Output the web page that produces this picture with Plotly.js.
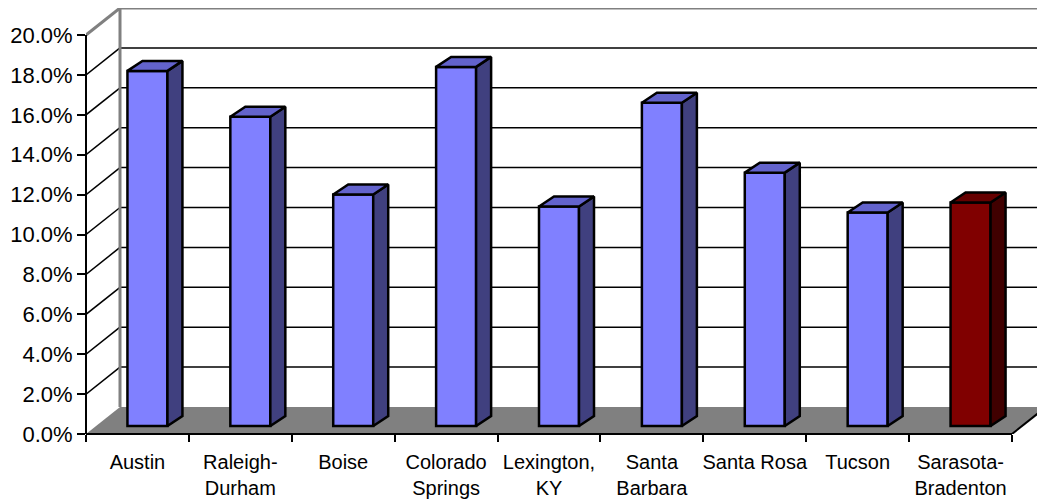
<!DOCTYPE html>
<html>
<head>
<meta charset="utf-8">
<script src="https://cdn.plot.ly/plotly-3.0.1.min.js"></script>
<style>
  html, body { margin: 0; padding: 0; background: #ffffff; }
  #chart { width: 1037px; height: 502px; }
</style>
</head>
<body>
<div id="chart"></div>
<script>
// Metro areas and their growth share
const cities = ['Austin', 'Raleigh-<br>Durham', 'Boise', 'Colorado<br>Springs', 'Lexington,<br>KY',
                'Santa<br>Barbara', 'Santa Rosa', 'Tucson', 'Sarasota-<br>Bradenton'];
const shares = [0.178, 0.155, 0.116, 0.180, 0.110, 0.162, 0.127, 0.107, 0.112];
const highlighted = [false, false, false, false, false, false, false, false, true];
const yTicks = [0, 0.02, 0.04, 0.06, 0.08, 0.10, 0.12, 0.14, 0.16, 0.18, 0.20];

// Pixel geometry of the pseudo-3D frame
const W = 1037, H = 502;
const M = { l: 86, r: 0, t: 8, b: 68 };
const PX = 926 / 9;          // pixels per category
const PY = 399 / 0.20;       // pixels per unit of share
const plotW = W - M.l - M.r, plotH = H - M.t - M.b;
const X0 = -0.5, X1 = X0 + plotW / PX;
const Y0 = 0, Y1 = plotH / PY;
const N = cities.length;
const XR = N - 0.5;

// wall depth offset
const DX = 34 / PX, DY = 27 / PY;
// bar placement inside the floor depth, and bar size
const BX = 10 / PX, BY = 8 / PY;
const BW = 40 / PX;
const DDX = 15 / PX, DDY = 10 / PY;

const FONT = '"Liberation Sans Narrow", "Arial Narrow", "Liberation Sans", Arial, sans-serif';
const FONT_Y = '"Liberation Sans", Arial, sans-serif';

const face = { blue: '#8080ff', blueTop: '#6363cc', blueSide: '#40407f',
               red: '#800000', redTop: '#660000', redSide: '#400000' };

const idx = cities.map((_, i) => i);

// Front faces
const traces = [{
  type: 'bar',
  x: idx.map(i => i + BX),
  y: shares,
  base: shares.map(() => BY),
  width: BW,
  marker: { color: highlighted.map(h => h ? face.red : face.blue), line: { color: '#000', width: 2.5 } },
  hoverinfo: 'skip',
  showlegend: false
}];

// Top and side faces of each bar
shares.forEach((v, i) => {
  const xl = i + BX - BW / 2, xr = i + BX + BW / 2;
  const yb = BY, yt = BY + v;
  const top = highlighted[i] ? face.redTop : face.blueTop;
  const side = highlighted[i] ? face.redSide : face.blueSide;
  traces.push({
    type: 'scatter', mode: 'lines', fill: 'toself', fillcolor: side,
    x: [xr, xr + DDX, xr + DDX, xr, xr],
    y: [yb, yb + DDY, yt + DDY, yt, yb],
    line: { color: '#000', width: 2.5 }, hoverinfo: 'skip', showlegend: false
  });
  traces.push({
    type: 'scatter', mode: 'lines', fill: 'toself', fillcolor: top,
    x: [xl, xl + DDX, xr + DDX, xr, xl],
    y: [yt, yt + DDY, yt + DDY, yt, yt],
    line: { color: '#000', width: 2.5 }, hoverinfo: 'skip', showlegend: false
  });
});

// placeholder trace so the boundary-tick axis is drawn
traces.push({ type: 'scatter', x: [null], y: [null], xaxis: 'x2', yaxis: 'y',
              hoverinfo: 'skip', showlegend: false });

// Walls and floor
const shapes = [];
const line = (x0, y0, x1, y1, color, width, extra) =>
  Object.assign({ type: 'line', xref: 'x', yref: 'y', x0, y0, x1, y1, layer: 'below',
                  line: { color, width } }, extra || {});

yTicks.forEach(v => {
  if (v === 0) return;
  const c = v === 0.20 ? '#808080' : '#000000';
  const w = v === 0.20 ? 3 : 1.5;
  shapes.push(line(X0 + DX, v + DY, X1 + 1, v + DY, c, w));
  shapes.push(line(X0, v, X0 + DX, v + DY, c, w));
});
shapes.push(line(X0 + DX, DY, X0 + DX, 0.20 + DY, '#808080', 3));
shapes.push({
  type: 'path', xref: 'x', yref: 'y', layer: 'below',
  path: `M ${X0},0 L ${XR},0 L ${XR + DX},${DY} L ${X0 + DX},${DY} Z`,
  fillcolor: '#808080', line: { width: 0 }
});
shapes.push(line(XR, 0, XR + DX, DY, '#000', 2));
shapes.push({ type: 'line', xref: 'x', yref: 'paper', x0: X0, x1: XR, y0: 0, y1: 0,
              layer: 'above', line: { color: '#000', width: 2 } });
shapes.push({ type: 'line', xref: 'paper', yref: 'y', x0: 0, x1: 0, y0: 0, y1: 0.20,
              layer: 'above', line: { color: '#000', width: 2 } });

const layout = {
  width: W, height: H,
  margin: M,
  paper_bgcolor: '#ffffff', plot_bgcolor: '#ffffff',
  showlegend: false,
  bargap: 0,
  xaxis: {
    range: [X0, X1], tickmode: 'array', tickvals: idx, ticktext: cities,
    ticks: 'outside', ticklen: 10, tickcolor: 'rgba(0,0,0,0)',
    showgrid: false, zeroline: false, showline: false, fixedrange: true,
    tickfont: { family: FONT, size: 20, color: '#000' }
  },
  xaxis2: {
    overlaying: 'x', anchor: 'y', side: 'bottom',
    range: [X0, X1], tickmode: 'array', tickvals: idx.concat([N]).map(i => i - 0.5),
    ticks: 'outside', ticklen: 7, tickwidth: 2, tickcolor: '#000',
    showticklabels: false, showgrid: false, zeroline: false, showline: false, fixedrange: true
  },
  yaxis: {
    range: [Y0, Y1], tickmode: 'array', tickvals: yTicks, tickformat: '.1%',
    ticks: 'outside', ticklen: 8, tickwidth: 2, tickcolor: '#000',
    showgrid: false, zeroline: false, showline: false, fixedrange: true,
    tickfont: { family: FONT_Y, size: 22, color: '#000' }
  },
  shapes
};

Plotly.newPlot('chart', traces, layout, { staticPlot: true, displayModeBar: false });
</script>
</body>
</html>
